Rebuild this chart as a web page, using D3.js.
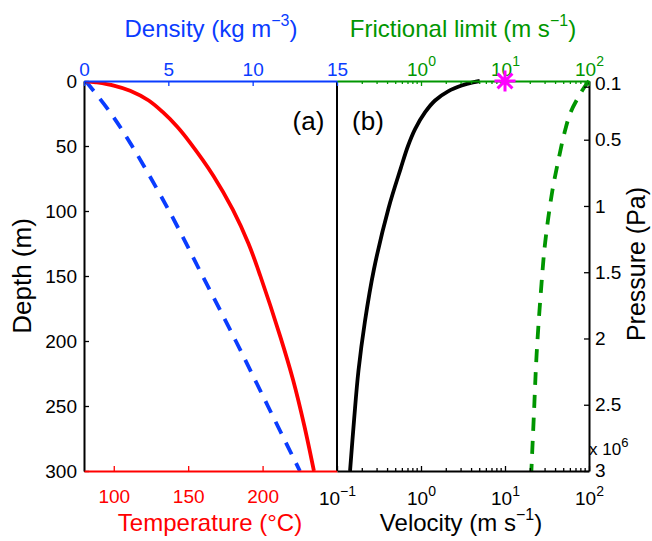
<!DOCTYPE html>
<html><head><meta charset="utf-8">
<script src="https://cdn.jsdelivr.net/npm/d3@7"></script>
<style>
body{margin:0;background:#fff;}
svg{display:block;font-family:"Liberation Sans",Arial,Helvetica,sans-serif;}
</style></head><body>
<svg id="chart" width="652" height="541"></svg>
<script>
// ---------- data ----------
const depthTicks = [0,50,100,150,200,250,300];
const densityTicks = [0,5,10,15];
const temperatureTicks = [100,150,200];
const velocityTicks = [0.1,1,10,100];
const frictionTicks = [1,10,100];
const pressureTicks = [0.1,0.5,1,1.5,2,2.5,3];

const tempDepth  = [0, 1, 3.5, 7.5, 15, 24, 35, 47, 73, 99, 125, 150, 197, 230, 265, 300];
const tempValue  = [81, 88, 100, 111, 123.5, 133, 142.5, 151, 167, 180, 190.5, 198.5, 212, 220.5, 228, 234.5];

const densDepth  = [0, 25, 50, 100, 150, 200, 250, 300];
const densValue  = [0.1, 1.6, 2.85, 5.05, 7.03, 9.0, 10.9, 12.8];

const velDepth   = [0, 1, 3.5, 8, 15, 24, 37, 50, 67, 98, 145, 185, 223, 260, 300];
const velValue   = [5.0, 4.15, 3.05, 2.1, 1.47, 1.12, 0.85, 0.70, 0.575, 0.41, 0.275, 0.215, 0.18, 0.16, 0.143];

const fricDepth  = [0, 4.8, 10, 24, 40, 60, 85, 124, 156, 210, 256, 300];
const fricValue  = [100, 88, 78.5, 60.5, 51, 43.5, 36.5, 30.1, 27.2, 23.8, 22.1, 20.6];

const markerDepth = [0];
const markerValue = [10];

// ---------- layout ----------
const L = 84, M = 337, R = 589, T = 81, B = 471;
const BLUE = "#0a3cff", RED = "#ff0000", GREEN = "#009600", MAG = "#ff00ff";
const TICKF = 19, TITLEF = 24;

const svg = d3.select("#chart");

const y    = d3.scaleLinear().domain([0,300]).range([T,B]);
const xDen = d3.scaleLinear().domain([0,15]).range([L,M]);
const xTmp = d3.scaleLinear().domain([80,250]).range([L,M]);
const xVel = d3.scaleLog().domain([0.1,100]).range([M,R]);
const yP   = d3.scaleLinear().domain([0.057,3]).range([T,B]);

const defs = svg.append("defs");
defs.append("clipPath").attr("id","clipA").append("rect")
  .attr("x",L).attr("y",T).attr("width",M-L).attr("height",B-T);
defs.append("clipPath").attr("id","clipB").append("rect")
  .attr("x",M).attr("y",T-2).attr("width",R-M).attr("height",B-T+2);

function addSup(text, parts, supSize, raise){
  let up = false;
  parts.forEach(([s, isSup]) => {
    const t = text.append("tspan").text(s);
    if (isSup && !up){ t.attr("font-size", supSize).attr("dy", -raise); up = true; }
    else if (isSup && up){ t.attr("font-size", supSize); }
    else if (!isSup && up){ t.attr("dy", raise); up = false; }
  });
  return text;
}

const smooth = d3.curveCatmullRom.alpha(0.5);

// ---------- curves ----------
const gA = svg.append("g").attr("clip-path","url(#clipA)");
const gB = svg.append("g").attr("clip-path","url(#clipB)");

gA.append("path")
  .datum(d3.zip(densDepth, densValue))
  .attr("fill","none").attr("stroke",BLUE).attr("stroke-width",3.8)
  .attr("stroke-dasharray","13,10")
  .attr("d", d3.line().x(d=>xDen(d[1])).y(d=>y(d[0])).curve(smooth));

gA.append("path")
  .datum(d3.zip(tempDepth, tempValue))
  .attr("fill","none").attr("stroke",RED).attr("stroke-width",3.8)
  .attr("d", d3.line().x(d=>xTmp(d[1])).y(d=>y(d[0])).curve(smooth));

gB.append("path")
  .datum(d3.zip(velDepth, velValue))
  .attr("fill","none").attr("stroke","#000").attr("stroke-width",3.8)
  .attr("d", d3.line().x(d=>xVel(d[1])).y(d=>y(d[0])).curve(smooth));

gB.append("path")
  .datum(d3.zip(fricDepth, fricValue))
  .attr("fill","none").attr("stroke",GREEN).attr("stroke-width",3.8)
  .attr("stroke-dasharray","13,10")
  .attr("d", d3.line().x(d=>xVel(d[1])).y(d=>y(d[0])).curve(smooth));

// ---------- axes ----------
function styleAxis(g, color, lw){
  g.select(".domain").attr("stroke",color).attr("stroke-width",lw);
  g.selectAll(".tick line").attr("stroke",color).attr("stroke-width",1.3);
  g.selectAll(".tick text").attr("fill",color).attr("font-size",TICKF)
    .attr("font-family",'"Liberation Sans",Arial,sans-serif');
  g.attr("font-family",null).attr("font-size",null);
}

// left depth
const gLeft = svg.append("g").attr("transform",`translate(${L},0)`)
  .call(d3.axisLeft(y).tickValues(depthTicks).tickSizeInner(-5).tickSizeOuter(0).tickPadding(7));
styleAxis(gLeft,"#000",2);

// middle divider
svg.append("line").attr("x1",M).attr("x2",M).attr("y1",T).attr("y2",B)
  .attr("stroke","#000").attr("stroke-width",2);

// right pressure
const gRight = svg.append("g").attr("transform",`translate(${R},0)`)
  .call(d3.axisRight(yP).tickValues(pressureTicks).tickSizeInner(-5).tickSizeOuter(0)
    .tickPadding(6).tickFormat(d3.format("~g")));
styleAxis(gRight,"#000",2);
gRight.selectAll(".tick text").attr("y", d => d === pressureTicks[0] ? -3 : (d === 3 ? -1 : 0));

// top density
const gTopA = svg.append("g").attr("transform",`translate(0,${T})`)
  .call(d3.axisTop(xDen).tickValues(densityTicks).tickSizeInner(-5).tickSizeOuter(0).tickPadding(5));
styleAxis(gTopA,BLUE,2);

// bottom temperature
const gBotA = svg.append("g").attr("transform",`translate(0,${B})`)
  .call(d3.axisBottom(xTmp).tickValues(temperatureTicks).tickSizeInner(-5).tickSizeOuter(0));
styleAxis(gBotA,RED,2);
gBotA.selectAll(".tick text").attr("y",32).attr("dy",null);

// log minor ticks
const minorVals = xVel.ticks().filter(v => !velocityTicks.some(m => Math.abs(m-v)/v < 1e-9));

// top friction (green)
const gTopB = svg.append("g").attr("transform",`translate(0,${T})`)
  .call(d3.axisTop(xVel).tickValues(frictionTicks).tickSizeInner(-5).tickSizeOuter(0).tickFormat(() => ""));
styleAxis(gTopB,GREEN,2);
gTopB.selectAll(".minor").data(minorVals).join("line").attr("class","minor")
  .attr("x1",d=>xVel(d)).attr("x2",d=>xVel(d)).attr("y1",0).attr("y2",3)
  .attr("stroke",GREEN).attr("stroke-width",1.3);
gTopB.selectAll(".tick").each(function(d){
  const t = d3.select(this).select("text").text(null)
    .attr("y",-5).attr("dy",null).attr("text-anchor","middle").attr("fill",GREEN);
  addSup(t, [["10",false],[String(Math.round(Math.log10(d))),true]], 14, 10);
});

// bottom velocity (black)
const gBotB = svg.append("g").attr("transform",`translate(0,${B})`)
  .call(d3.axisBottom(xVel).tickValues(velocityTicks).tickSizeInner(-5).tickSizeOuter(0).tickFormat(() => ""));
styleAxis(gBotB,"#000",2);
gBotB.selectAll(".minor").data(minorVals).join("line").attr("class","minor")
  .attr("x1",d=>xVel(d)).attr("x2",d=>xVel(d)).attr("y1",0).attr("y2",-3)
  .attr("stroke","#000").attr("stroke-width",1.3);
gBotB.selectAll(".tick").each(function(d){
  const e = Math.round(Math.log10(d));
  const t = d3.select(this).select("text").text(null)
    .attr("y",34).attr("dy",null).attr("text-anchor","middle").attr("fill","#000");
  addSup(t, [["10",false],[e<0 ? "\u2212"+Math.abs(e) : String(e),true]], 14, 9);
});

// marker (asterisk)
const mk = svg.append("g");
d3.zip(markerDepth, markerValue).forEach(([dep,val]) => {
  const cx = xVel(val), cy = y(dep), r = 10.5;
  const p = d3.path();
  [0,45,90,135].forEach(a => {
    const rad = a*Math.PI/180;
    p.moveTo(cx - r*Math.cos(rad), cy - r*Math.sin(rad));
    p.lineTo(cx + r*Math.cos(rad), cy + r*Math.sin(rad));
  });
  mk.append("path").attr("d",p.toString()).attr("stroke",MAG).attr("stroke-width",3).attr("fill","none");
});

// pressure multiplier
addSup(svg.append("text").attr("x",R).attr("y",455).attr("font-size",17).attr("fill","#000"),
  [["x 10",false],["6",true]], 13, 8);

// ---------- titles ----------
addSup(svg.append("text").attr("x",211).attr("y",37).attr("text-anchor","middle")
  .attr("font-size",TITLEF).attr("fill",BLUE),
  [["Density (kg m",false],["\u22123",true],[")",false]], 16, 11);
addSup(svg.append("text").attr("x",463).attr("y",37).attr("text-anchor","middle")
  .attr("font-size",TITLEF).attr("fill",GREEN),
  [["Frictional limit (m s",false],["\u22121",true],[")",false]], 16, 11);
svg.append("text").attr("x",210).attr("y",531).attr("text-anchor","middle")
  .attr("font-size",TITLEF).attr("fill",RED).text("Temperature (\u00B0C)");
addSup(svg.append("text").attr("x",461).attr("y",531).attr("text-anchor","middle")
  .attr("font-size",TITLEF).attr("fill","#000"),
  [["Velocity (m s",false],["\u22121",true],[")",false]], 16, 11);
svg.append("text").attr("transform","translate(31,276) rotate(-90)").attr("text-anchor","middle")
  .attr("font-size",26).attr("fill","#000").text("Depth (m)");
svg.append("text").attr("transform","translate(645,264) rotate(-90)").attr("text-anchor","middle")
  .attr("font-size",25).attr("fill","#000").text("Pressure (Pa)");
svg.append("text").attr("x",308.5).attr("y",130).attr("text-anchor","middle")
  .attr("font-size",26).attr("fill","#000").text("(a)");
svg.append("text").attr("x",368).attr("y",130).attr("text-anchor","middle")
  .attr("font-size",26).attr("fill","#000").text("(b)");
</script>
</body></html>
